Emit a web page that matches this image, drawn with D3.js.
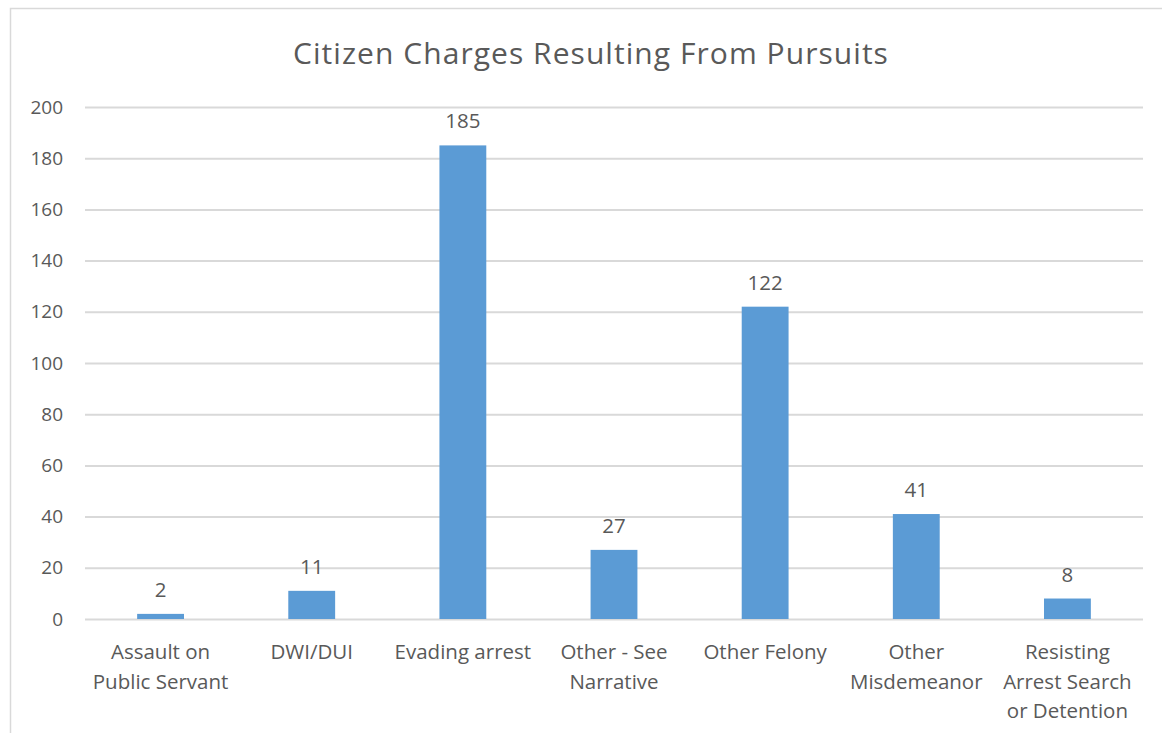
<!DOCTYPE html>
<html>
<head>
<meta charset="utf-8">
<script src="https://cdn.jsdelivr.net/npm/d3@7"></script>
<style>
  html, body { margin: 0; padding: 0; background: #fff; }
  svg { display: block; }
  text { font-family: "Open Sans", "Noto Sans", sans-serif; fill: #595959; }
</style>
</head>
<body>
<svg id="chart" width="1162" height="733"></svg>
<script>
// Charge categories (multi-line labels) and counts
const categories = [
  ["Assault on", "Public Servant"],
  ["DWI/DUI"],
  ["Evading arrest"],
  ["Other - See", "Narrative"],
  ["Other Felony"],
  ["Other", "Misdemeanor"],
  ["Resisting", "Arrest Search", "or Detention"]
];
const counts = [2, 11, 185, 27, 122, 41, 8];
const yTicks = [0, 20, 40, 60, 80, 100, 120, 140, 160, 180, 200];
const title = "Citizen Charges Resulting From Pursuits";

const svg = d3.select("#chart");
const W = 1162, H = 733;
const plot = { left: 85, right: 1143, top: 107, bottom: 619 };

// Chart area frame
svg.append("rect")
  .attr("x", 10.5).attr("y", 8.5)
  .attr("width", W + 20).attr("height", H + 20)
  .attr("fill", "#fff").attr("stroke", "#d9d9d9").attr("stroke-width", 1.5);

const keys = categories.map(c => c.join(" "));
const x = d3.scaleBand()
  .domain(keys)
  .range([plot.left, plot.right])
  .paddingInner(0.69)
  .paddingOuter(0.345);

const y = d3.scaleLinear().domain([0, 200]).range([plot.bottom, plot.top]);

// Title
svg.append("text")
  .attr("x", 591)
  .attr("y", 64)
  .attr("text-anchor", "middle")
  .style("font-size", "30px")
  .style("letter-spacing", "1.05px")
  .text(title);

// Horizontal gridlines and y tick labels
const yAxis = d3.axisLeft(y).tickValues(yTicks).tickSize(-(plot.right - plot.left)).tickPadding(22);
const gy = svg.append("g").attr("transform", `translate(${plot.left},0)`).call(yAxis);
gy.select(".domain").remove();
gy.selectAll(".tick line").attr("stroke", "#d9d9d9").attr("stroke-width", 2);
gy.selectAll(".tick text")
  .style("font-size", "19px")
  .style("font-family", "\"Open Sans\", sans-serif")
  .attr("fill", "#595959");

// Bars
svg.append("g").selectAll("rect")
  .data(counts)
  .join("rect")
  .attr("x", (d, i) => x(keys[i]))
  .attr("y", d => y(d))
  .attr("width", x.bandwidth())
  .attr("height", d => y(0) - y(d))
  .attr("fill", "#5b9bd5");

// Value labels
svg.append("g").selectAll("text")
  .data(counts)
  .join("text")
  .attr("x", (d, i) => x(keys[i]) + x.bandwidth() / 2)
  .attr("y", d => y(d) - 17)
  .attr("text-anchor", "middle")
  .style("font-size", "20.5px")
  .text(d => d);

// Category labels
const cat = svg.append("g").selectAll("text")
  .data(categories)
  .join("text")
  .attr("x", (d, i) => x(keys[i]) + x.bandwidth() / 2)
  .attr("y", 659)
  .attr("text-anchor", "middle")
  .style("font-size", "20.5px");
cat.selectAll("tspan")
  .data(d => d)
  .join("tspan")
  .attr("x", function () { return d3.select(this.parentNode).attr("x"); })
  .attr("dy", (d, i) => i === 0 ? 0 : 29.5)
  .text(d => d);
</script>
</body>
</html>
